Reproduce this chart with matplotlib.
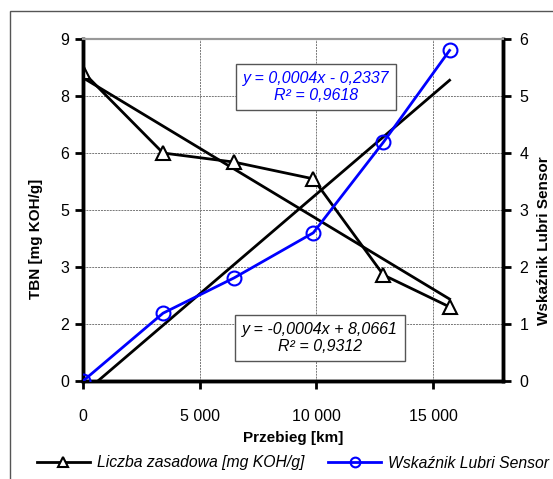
import numpy as np
import matplotlib.pyplot as plt
from matplotlib.patches import Rectangle
from matplotlib.lines import Line2D
from matplotlib.ticker import FixedLocator, FixedFormatter

plt.rcParams['font.family'] = ['Liberation Sans', 'DejaVu Sans']

# Datos
przebieg = [0, 3430, 6480, 9870, 12875, 15710]
tbn = [8.13, 6.0, 5.76, 5.32, 2.79, 1.95]
lubri = [0.0, 1.19, 1.81, 2.6, 4.19, 5.8]

tbn_ticks = [0, 1.5, 3, 4.5, 6, 7.5, 9]
tbn_labels = ['0', '2', '3', '5', '6', '8', '9']
lubri_ticks = [0, 1, 2, 3, 4, 5, 6]
x_ticks = [0, 5000, 10000, 15000]
x_labels = ['0', '5 000', '10 000', '15 000']

eq_tbn = 'y = -0,0004x + 8,0661\nR² = 0,9312'
eq_lubri = 'y = 0,0004x - 0,2337\nR² = 0,9618'

fig = plt.figure(figsize=(5.53, 4.79), dpi=100)
# marco exterior
fig.patches.append(Rectangle((10 / 553, -0.1), 1.1, (479 - 11) / 479 + 0.1,
                             transform=fig.transFigure, fill=False,
                             edgecolor='#555555', linewidth=1))

ax = fig.add_axes([83 / 553, 1 - 381 / 479, 420 / 553, 342 / 479])
ax2 = ax.twinx()

# lineas de tendencia (regresion lineal)
x_arr = np.array(przebieg, dtype=float)
a1, b1 = np.polyfit(x_arr, tbn, 1)
a2, b2 = np.polyfit(x_arr, lubri, 1)
xt = np.array([0, przebieg[-1]], dtype=float)

ax.plot(przebieg, tbn, color='black', lw=2, marker='^', ms=10,
        mfc='white', mec='black', mew=1.5, zorder=4)
ax.plot(xt, a1 * xt + b1, color='black', lw=2, zorder=3)

ax2.plot(xt, a2 * xt + b2, color='black', lw=2, zorder=3)
ax2.plot(przebieg, lubri, color='#0000ff', lw=2, marker='o', ms=10,
         mfc='none', mec='#0000ff', mew=1.5, zorder=4)

ax.set_xlim(0, 18000)
ax.set_ylim(0, 9)
ax2.set_ylim(0, 6)

ax.yaxis.set_major_locator(FixedLocator(tbn_ticks))
ax.yaxis.set_major_formatter(FixedFormatter(tbn_labels))
ax2.set_yticks(lubri_ticks)
ax.set_xticks(x_ticks)
ax.set_xticklabels(x_labels)

ax.grid(True, color='#777777', linestyle=(0, (2, 1)), linewidth=0.7)
ax.set_axisbelow(True)

for a in (ax, ax2):
    a.spines['top'].set_color('#999999')
    a.spines['top'].set_linewidth(1.5)
    for s in ('left', 'right', 'bottom'):
        a.spines[s].set_linewidth(2.5)
        a.spines[s].set_color('black')
    a.tick_params(labelsize=11.5, width=2, length=6, direction='out')
ax.tick_params(axis='x', pad=14)
ax.tick_params(axis='y', pad=4)
ax2.tick_params(axis='y', pad=6)

ax.set_xlabel('Przebieg [km]', fontsize=11, fontweight='bold', labelpad=5)
ax.set_ylabel('TBN [mg KOH/g]', fontsize=11, fontweight='bold')
ax2.set_ylabel('Wskaźnik Lubri Sensor', fontsize=11, fontweight='bold')
ax.yaxis.set_label_coords(-0.095, 0.415)
ax2.yaxis.set_label_coords(1.081, 0.41)

caja = dict(boxstyle='square,pad=0.45', fc='white', ec='#555555', lw=1)
fig.text(316 / 553, 1 - 87 / 479, eq_lubri, color='#0000ff', fontsize=11.5,
         style='italic', ha='center', va='center', bbox=caja, zorder=10,
         linespacing=1.1)
fig.text(320 / 553, 1 - 338 / 479, eq_tbn, color='black', fontsize=11.5,
         style='italic', ha='center', va='center', bbox=caja, zorder=10,
         linespacing=1.1)

h1 = Line2D([], [], color='black', lw=2, marker='^', ms=7, mfc='white', mec='black', mew=1.5)
h2 = Line2D([], [], color='#0000ff', lw=2, marker='o', ms=7, mfc='none', mec='#0000ff', mew=1.5)
fig.legend([h1, h2], ['Liczba zasadowa [mg KOH/g]', 'Wskaźnik Lubri Sensor'],
           loc='center', bbox_to_anchor=(293 / 553, 1 - 463 / 479), ncol=2,
           frameon=False, prop={'size': 11.3, 'style': 'italic'},
           handlelength=3.4, columnspacing=1.5, handletextpad=0.45,
           borderpad=0, borderaxespad=0)

fig.savefig('out.png', dpi=100)
